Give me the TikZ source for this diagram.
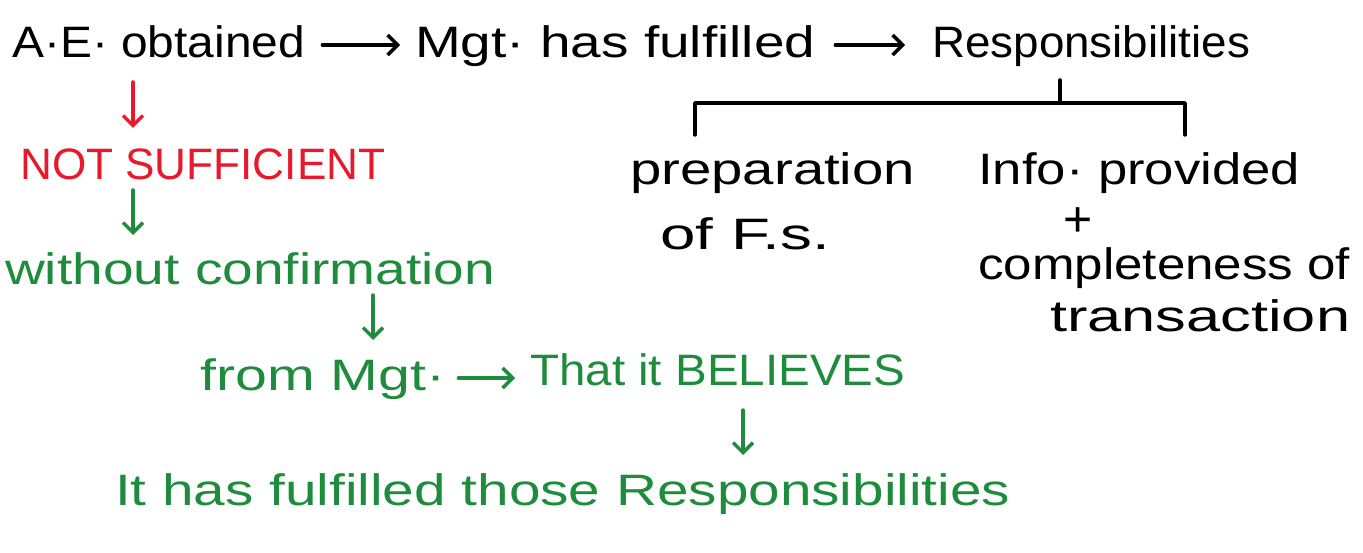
\documentclass[tikz,border=0pt]{standalone}
\usepackage{fontspec}
\setmainfont{Liberation Sans}
\usetikzlibrary{arrows.meta}
\definecolor{hred}{HTML}{E8192C}
\definecolor{hgreen}{HTML}{1E8C3C}
\newcommand{\fw}[2]{\resizebox{#1pt}{\height}{#2}}
\begin{document}
\begin{tikzpicture}[x=1pt,y=-1pt,
  txt/.style={anchor=base west,inner sep=0pt,font=\fontsize{44}{50}\selectfont},
  arr/.style={-{Straight Barb[length=10pt,width=20pt,line width=3.5pt]},line width=3.5pt,line cap=round},
  tree/.style={line width=3.5pt,line cap=round,line join=round}]
\useasboundingbox (0,0) rectangle (1363,553);
% top row
\node[txt] (ae) at (12,58) {\fw{293}{A·E· obtained}};
\node[txt] (mgt) at (415,58) {\fw{400}{Mgt· has fulfilled}};
\node[txt] (resp) at (932,58) {\fw{318}{Responsibilities}};
\draw[arr] ([shift={(17,-13)}]ae.base east) -- ([shift={(-15,-13)}]mgt.base west);
\draw[arr] ([shift={(20,-13)}]mgt.base east) -- ([shift={(-27,-13)}]resp.base west);
% red
\node[txt,text=hred] (not) at (20,180) {\fw{365}{NOT SUFFICIENT}};
\draw[arr,hred] ([shift={(121,24)}]ae.base west) -- ([shift={(113,-52)}]not.base west);
% green
\node[txt,text=hgreen] (without) at (5,285) {\fw{490}{without confirmation}};
\node[txt,text=hgreen] (from) at (200,390) {\fw{245}{from Mgt·}};
\node[txt,text=hgreen] (that) at (530,385) {\fw{375}{That it BELIEVES}};
\node[txt,text=hgreen] (it) at (115,505) {\fw{895}{It has fulfilled those Responsibilities}};
\draw[arr,hgreen] ([shift={(113,10)}]not.base west) -- ([shift={(128,-50)}]without.base west);
\draw[arr,hgreen] ([shift={(368,10)}]without.base west) -- ([shift={(173,-50)}]from.base west);
\draw[arr,hgreen] ([shift={(13,-12)}]from.base east) -- ([shift={(-15,-7)}]that.base west);
\draw[arr,hgreen] ([shift={(213,25)}]that.base west) -- ([shift={(628,-50)}]it.base west);
% tree
\node[txt] (prep) at (630,185) {\fw{285}{preparation}};
\node[txt] (offs) at (660,250) {\fw{170}{of F.s.}};
\node[txt] (info) at (978,185) {\fw{322}{Info· provided}};
\node[inner sep=0pt,font=\fontsize{50}{56}\selectfont] (plus) at (1078,222) {+};
\node[txt] (comp) at (978,280) {\fw{372}{completeness of}};
\node[txt] (trans) at (1050,332) {\fw{300}{transaction}};
\coordinate (j) at (1060,103);
\coordinate (jl) at (695,103);
\coordinate (jr) at (1185,103);
\draw[tree] ([shift={(128,22)}]resp.base west) -- (j);
\draw[tree] ([shift={(65,-50)}]prep.base west) -- (jl) -- (jr) -- ([shift={(207,-50)}]info.base west);
\end{tikzpicture}
\end{document}
